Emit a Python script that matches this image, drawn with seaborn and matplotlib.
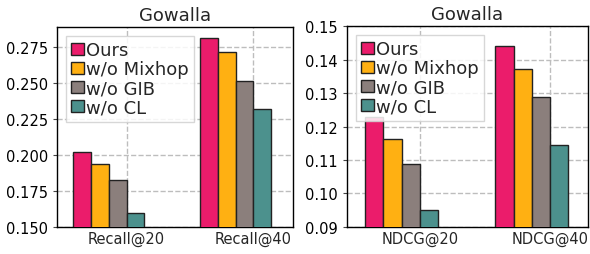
import numpy as np
import pandas as pd
import seaborn as sns
import matplotlib.pyplot as plt

# data
methods = ['Ours', 'w/o Mixhop', 'w/o GIB', 'w/o CL']
recall_metrics = ['Recall@20', 'Recall@40']
recall_vals = {
    'Ours': [0.2024, 0.2811],
    'w/o Mixhop': [0.1941, 0.2717],
    'w/o GIB': [0.1829, 0.2517],
    'w/o CL': [0.1598, 0.2317],
}
ndcg_metrics = ['NDCG@20', 'NDCG@40']
ndcg_vals = {
    'Ours': [0.1227, 0.1439],
    'w/o Mixhop': [0.1164, 0.1371],
    'w/o GIB': [0.1087, 0.1287],
    'w/o CL': [0.0952, 0.1146],
}
colors = ['#EB1C6B', '#FFB012', '#8B7F7C', '#4C918D']
title = 'Gowalla'


def to_df(metrics, vals):
    rows = []
    for m in methods:
        for k, metric in enumerate(metrics):
            rows.append({'metric': metric, 'method': m, 'value': vals[m][k]})
    return pd.DataFrame(rows)


# styling
sns.set_style('whitegrid', {
    'axes.edgecolor': 'black',
    'grid.color': '#bdbdbd',
    'grid.linestyle': '--',
})
plt.rcParams['font.family'] = ['DejaVu Sans']
plt.rcParams['ytick.left'] = True
plt.rcParams['ytick.major.size'] = 3
plt.rcParams['ytick.color'] = '#444444'
plt.rcParams['ytick.labelcolor'] = 'black'

fig = plt.figure(figsize=(5.9, 2.55), dpi=100)
ax1 = fig.add_axes([0.0966, 0.106, 0.400, 0.784])
ax2 = fig.add_axes([0.588, 0.106, 0.4086, 0.788])

w = 0.14
panels = [
    (ax1, to_df(recall_metrics, recall_vals), recall_metrics, (0.15, 0.289),
     [0.150, 0.175, 0.200, 0.225, 0.250, 0.275], '{:.3f}', (-0.41, 1.453)),
    (ax2, to_df(ndcg_metrics, ndcg_vals), ndcg_metrics, (0.09, 0.15),
     [0.09, 0.10, 0.11, 0.12, 0.13, 0.14, 0.15], '{:.2f}', (-0.42, 1.43)),
]

for ax, df, metrics, ylim, yt, fmt, xlim in panels:
    sns.barplot(data=df, x='metric', y='value', hue='method', hue_order=methods,
                palette=colors, width=4 * w, edgecolor='#222222', linewidth=1,
                saturation=1, ax=ax, zorder=3)
    ax.set_axisbelow(True)
    ax.set_ylim(*ylim)
    ax.set_yticks(yt)
    ax.set_yticklabels([fmt.format(v) for v in yt], fontsize=10.5)
    ax.set_xticks([0 + w, 1 + w])
    ax.set_xticklabels(metrics, fontsize=10.5)
    ax.tick_params(axis='x', length=0, pad=3)
    ax.set_xlim(*xlim)
    ax.set_xlabel('')
    ax.set_ylabel('')
    ax.set_title(title, fontsize=13, pad=5)
    ax.grid(True, axis='both', linestyle='--', color='#bdbdbd', linewidth=1)
    for s in ax.spines.values():
        s.set_color('black')
        s.set_linewidth(1)
    ax.legend(loc='upper left', fontsize=13, handlelength=0.7, handleheight=0.7,
              handletextpad=0.1, labelspacing=0.05, borderpad=0.3,
              fancybox=False, framealpha=0.85, edgecolor='#d0d0d0', title=None)

fig.savefig('out.png', dpi=100)
